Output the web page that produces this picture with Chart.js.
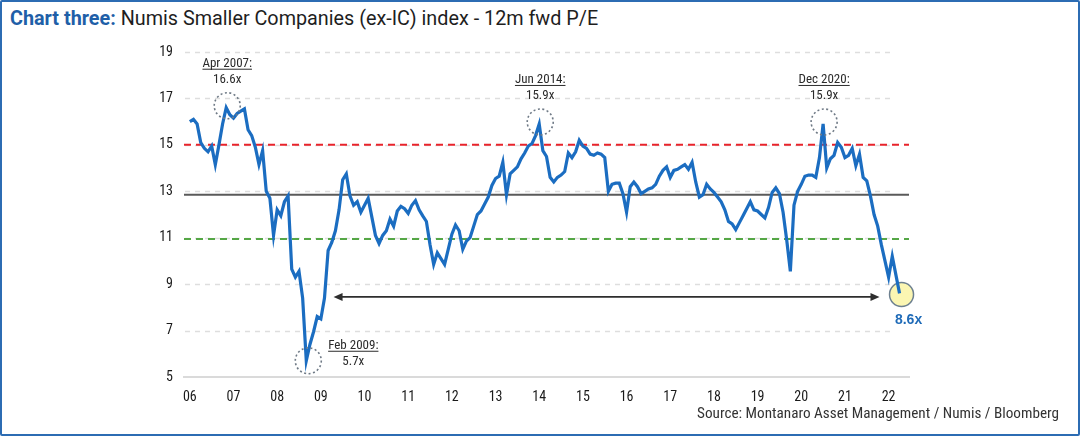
<!DOCTYPE html>
<html lang="en">
<head>
    <meta charset="UTF-8">
    <title>Numis Smaller Companies (ex-IC) index - 12m fwd P/E</title>
    <script src="https://cdn.jsdelivr.net/npm/chart.js"></script>
    <style>
        html, body { margin: 0; padding: 0; background: #fff; }
        .frame {
            position: absolute; left: 0; top: 0;
            width: 1076px; height: 432px;
            border: 2px solid #2c6cb3; border-radius: 2px;
        }
        .title {
            position: absolute; left: 10px; top: 7px;
            font-family: Roboto, 'Open Sans', sans-serif;
            font-size: 19.8px; color: #1e1e1e; white-space: nowrap;
        }
        .title b { color: #1f5fa8; font-weight: 700; }
        .source {
            position: absolute; right: 21px; top: 404px;
            font-family: 'Liberation Sans Narrow', 'Roboto Condensed', 'Liberation Sans', sans-serif;
            font-size: 15.2px; color: #333; white-space: nowrap;
        }
        .chart-box { position: absolute; left: 0; top: 0; width: 1080px; height: 436px; }
    </style>
</head>
<body>
    <div class="frame"></div>
    <div class="title"><b>Chart three:</b> Numis Smaller Companies (ex-IC) index - 12m fwd P/E</div>
    <div class="chart-box"><canvas id="peChart"></canvas></div>
    <div class="source">Source: Montanaro Asset Management / Numis / Bloomberg</div>

    <script>
        // monthly 12m fwd P/E, Jun 2006 .. Sep 2022
        const peValues = [
            16.0, 16.1, 15.9, 15.1, 14.85, 14.7, 14.95, 14.15, 15.0, 15.9,
            16.6, 16.3, 16.15, 16.35, 16.45, 16.55, 15.65, 15.4, 14.9, 14.15,
            14.75, 13.0, 12.7, 11.1, 12.2, 11.95, 12.55, 12.8, 9.65, 9.3,
            9.55, 8.4, 5.7, 6.4, 6.95, 7.6, 7.5, 8.4, 10.45, 10.8,
            11.3, 12.2, 13.5, 13.75, 12.8, 12.4, 12.55, 12.1, 12.4, 12.7,
            11.9, 11.1, 10.75, 11.1, 11.3, 11.8, 11.5, 12.15, 12.35, 12.25,
            12.05, 12.4, 12.6, 12.2, 11.94, 11.7, 10.7, 9.85, 10.35, 10.1,
            9.85, 10.5, 11.15, 11.55, 11.3, 10.5, 10.85, 11.0, 11.5, 12.0,
            12.15, 12.45, 12.75, 13.25, 13.55, 13.65, 14.25, 12.85, 13.75, 13.9,
            14.05, 14.4, 14.65, 14.95, 15.05, 15.4, 15.9, 14.75, 14.5, 13.6,
            13.4, 13.6, 13.7, 13.85, 14.65, 14.45, 14.7, 15.2, 14.95, 14.85,
            14.6, 14.55, 14.65, 14.6, 14.45, 13.0, 13.3, 13.35, 13.35, 12.9,
            12.1, 13.2, 13.4, 13.2, 12.9, 13.0, 13.1, 13.15, 13.3, 13.65,
            13.9, 14.05, 13.6, 13.9, 13.95, 14.05, 14.15, 13.95, 14.25, 13.4,
            12.75, 12.85, 13.3, 13.1, 12.95, 12.75, 12.55, 12.2, 11.7, 11.6,
            11.35, 11.65, 11.95, 12.25, 12.55, 12.2, 12.15, 12.0, 11.85, 12.3,
            12.95, 13.15, 12.9, 12.1, 10.9, 9.55, 12.4, 13.0, 13.3, 13.65,
            13.7, 13.7, 13.6, 14.45, 15.9, 14.0, 14.4, 14.55, 15.1, 14.9,
            14.45, 14.55, 14.85, 14.1, 14.6, 13.6, 13.45, 12.8, 12.0, 11.5,
            10.7, 10.0, 9.3, 10.2, 9.4, 8.6
        ];
        const yearTicks = ['06', '07', '08', '09', '10', '11', '12', '13', '14', '15', '16', '17', '18', '19', '20', '21', '22'];
        const yearTickMonths = [0, 12, 24, 36, 48, 60, 72, 84, 96, 108, 120, 132, 144, 156, 168, 180, 192];

        const avgPE = 12.85;
        const upperBand = 15.0;
        const lowerBand = 10.95;

        // highlighted points: month index, value, labels
        const peakNotes = [
            { i: 10, v: 16.6, head: 'Apr 2007:', val: '16.6x', side: 'top' },
            { i: 32, v: 5.7, head: 'Feb 2009:', val: '5.7x', side: 'right' },
            { i: 96, v: 15.9, head: 'Jun 2014:', val: '15.9x', side: 'top' },
            { i: 174, v: 15.9, head: 'Dec 2020:', val: '15.9x', side: 'top' }
        ];
        const lastIndex = peValues.length - 1;
        const lastLabel = '8.6x';
        const arrowSpan = [39.5, 189.5];
        const arrowLevel = 8.45;

        const xMin = -1.6, xMax = 197.6;
        const noteFont = "'Liberation Sans Narrow', 'Roboto Condensed', 'Liberation Sans', sans-serif";

        const series = peValues.map((v, i) => ({ x: i, y: v }));
        const flat = v => [{ x: xMin, y: v }, { x: xMax, y: v }];

        function dottedCircle(ctx, cx, cy, r) {
            ctx.save();
            ctx.strokeStyle = '#6f7a86';
            ctx.lineWidth = 1.6;
            ctx.setLineDash([2, 2.5]);
            ctx.beginPath();
            ctx.arc(cx, cy, r, 0, Math.PI * 2);
            ctx.stroke();
            ctx.restore();
        }

        function noteText(ctx, head, val, cx, top) {
            ctx.save();
            ctx.font = '13px ' + noteFont;
            ctx.fillStyle = '#2b2b2b';
            ctx.textAlign = 'center';
            ctx.textBaseline = 'alphabetic';
            ctx.fillText(head, cx, top);
            const w = ctx.measureText(head).width;
            ctx.strokeStyle = '#2b2b2b';
            ctx.lineWidth = 1;
            ctx.beginPath();
            ctx.moveTo(cx - w / 2, top + 2.5);
            ctx.lineTo(cx + w / 2, top + 2.5);
            ctx.stroke();
            ctx.fillText(val, cx, top + 16);
            ctx.restore();
        }

        const notesPlugin = {
            id: 'notes',
            beforeDatasetsDraw(chart) {
                const { ctx, chartArea, scales: { x, y } } = chart;

                // dashed horizontal gridlines at the y ticks
                ctx.save();
                ctx.strokeStyle = '#dedede';
                ctx.lineWidth = 1.5;
                ctx.setLineDash([5, 5]);
                y.ticks.forEach(t => {
                    if (t.value === y.min) return;
                    const gy = Math.round(y.getPixelForValue(t.value)) + 0.5;
                    ctx.beginPath();
                    ctx.moveTo(chartArea.left + 1, gy);
                    ctx.lineTo(chartArea.right - 14, gy);
                    ctx.stroke();
                });
                ctx.restore();

                const px = x.getPixelForValue(lastIndex), py = y.getPixelForValue(peValues[lastIndex]);
                ctx.save();
                ctx.fillStyle = '#fbf6b2';
                ctx.strokeStyle = '#6d8090';
                ctx.lineWidth = 1.5;
                ctx.beginPath();
                ctx.arc(px + 2, py + 1, 12, 0, Math.PI * 2);
                ctx.fill();
                ctx.stroke();
                ctx.restore();
            },
            afterDatasetsDraw(chart) {
                const { ctx, scales: { x, y } } = chart;

                peakNotes.forEach(n => {
                    const px = x.getPixelForValue(n.i), py = y.getPixelForValue(n.v);
                    if (n.side === 'top') {
                        dottedCircle(ctx, px + 1, py - 2, 13);
                        noteText(ctx, n.head, n.val, px + 1, py - 41);
                    } else {
                        dottedCircle(ctx, px + 2, py, 13);
                        noteText(ctx, n.head, n.val, px + 47, py - 12);
                    }
                });

                // arrow back to 2009
                const ax1 = x.getPixelForValue(arrowSpan[0]);
                const ax2 = x.getPixelForValue(arrowSpan[1]);
                const ay = y.getPixelForValue(arrowLevel);
                ctx.save();
                ctx.strokeStyle = '#2e2e2e';
                ctx.fillStyle = '#2e2e2e';
                ctx.lineWidth = 1.6;
                ctx.beginPath();
                ctx.moveTo(ax1 + 6, ay);
                ctx.lineTo(ax2 - 6, ay);
                ctx.stroke();
                ctx.beginPath();
                ctx.moveTo(ax1, ay); ctx.lineTo(ax1 + 9, ay - 4); ctx.lineTo(ax1 + 9, ay + 4); ctx.closePath();
                ctx.fill();
                ctx.beginPath();
                ctx.moveTo(ax2, ay); ctx.lineTo(ax2 - 9, ay - 4); ctx.lineTo(ax2 - 9, ay + 4); ctx.closePath();
                ctx.fill();
                ctx.restore();

                // latest value label
                const lx = x.getPixelForValue(lastIndex), ly = y.getPixelForValue(peValues[lastIndex]);
                ctx.save();
                ctx.font = "bold 14px 'Liberation Sans', sans-serif";
                ctx.fillStyle = '#1f6bb8';
                ctx.textAlign = 'center';
                ctx.textBaseline = 'middle';
                ctx.fillText(lastLabel, lx + 9, ly + 27);
                ctx.restore();
            }
        };

        const tickFont = { family: noteFont, size: 14 };

        new Chart(document.getElementById('peChart'), {
            type: 'line',
            data: {
                datasets: [{
                    label: '12m fwd P/E',
                    data: series,
                    borderColor: '#1b6dc1',
                    borderWidth: 3.2,
                    pointRadius: 0,
                    tension: 0,
                    order: 0
                }, {
                    label: 'Average',
                    data: flat(avgPE),
                    borderColor: '#5a5a5a',
                    borderWidth: 2,
                    pointRadius: 0,
                    order: 1
                }, {
                    label: '+1 SD',
                    data: flat(upperBand),
                    borderColor: '#e8232b',
                    borderWidth: 2,
                    borderDash: [7, 5],
                    pointRadius: 0,
                    order: 1
                }, {
                    label: '-1 SD',
                    data: flat(lowerBand),
                    borderColor: '#55a746',
                    borderWidth: 2,
                    borderDash: [7, 5],
                    pointRadius: 0,
                    order: 1
                }]
            },
            options: {
                responsive: true,
                maintainAspectRatio: false,
                animation: false,
                layout: { padding: { top: 52, right: 171, left: 0, bottom: 0 } },
                plugins: {
                    legend: { display: false },
                    tooltip: { enabled: false }
                },
                scales: {
                    x: {
                        type: 'linear',
                        min: xMin,
                        max: xMax,
                        afterBuildTicks: scale => {
                            scale.ticks = yearTickMonths.map(v => ({ value: v }));
                        },
                        afterFit: scale => { scale.height = 59; },
                        ticks: {
                            autoSkip: false,
                            maxRotation: 0,
                            padding: 12,
                            color: '#1a1a1a',
                            font: tickFont,
                            callback: (value, index) => yearTicks[index]
                        },
                        grid: { display: false, drawTicks: false },
                        border: { display: true, color: '#dadada', width: 2 }
                    },
                    y: {
                        min: 5,
                        max: 19,
                        afterFit: scale => { scale.width = 184; },
                        ticks: {
                            stepSize: 2,
                            padding: 11,
                            color: '#1a1a1a',
                            font: tickFont
                        },
                        grid: { display: false, drawTicks: false },
                        border: { display: false }
                    }
                }
            },
            plugins: [notesPlugin]
        });
    </script>
</body>
</html>
